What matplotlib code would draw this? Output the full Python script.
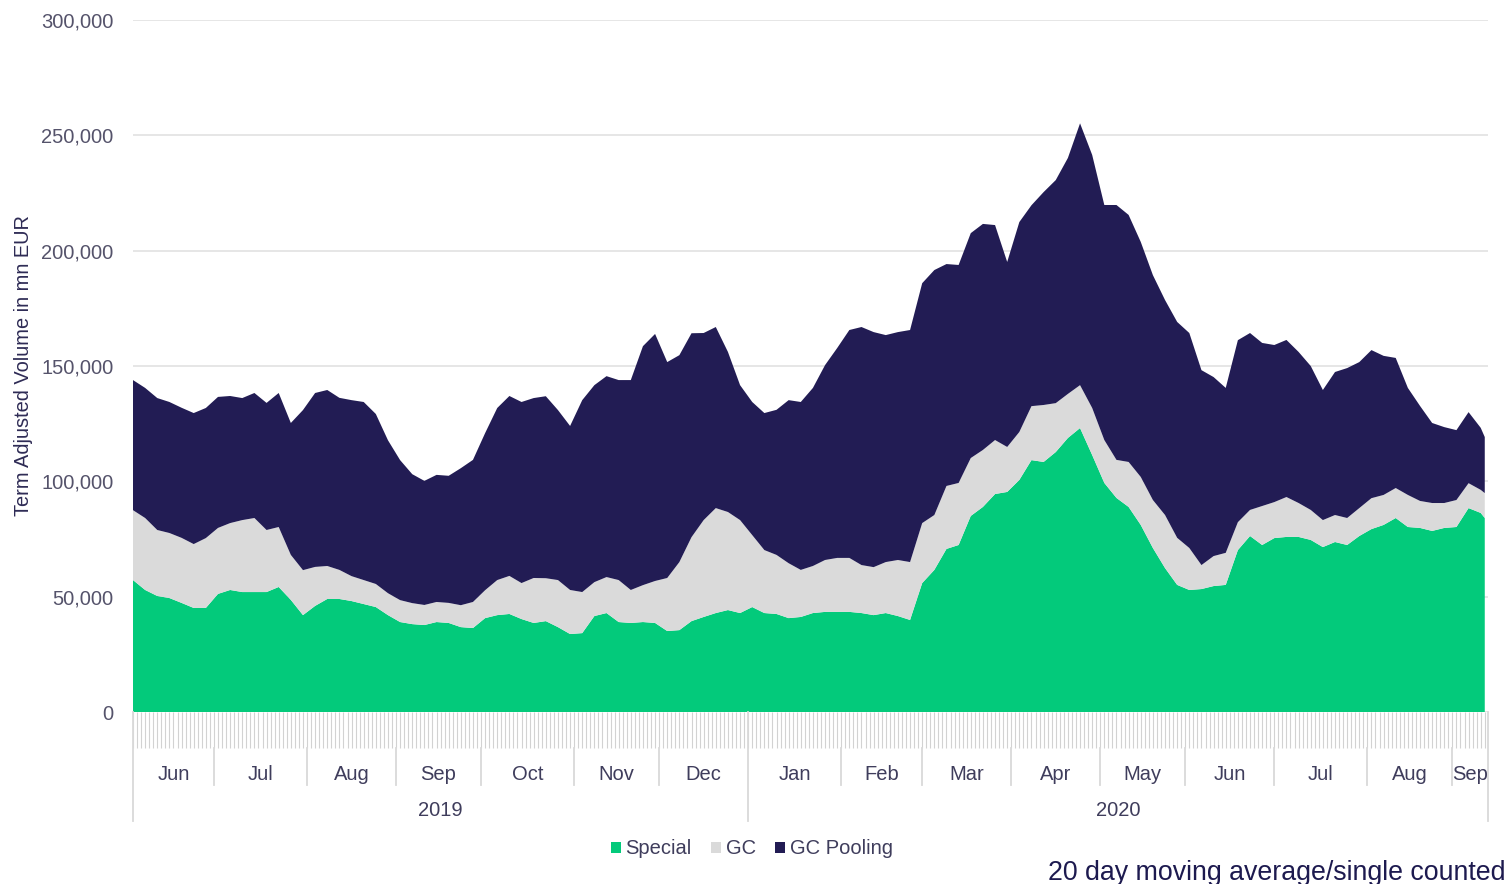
import numpy as np
import pandas as pd
import matplotlib
matplotlib.use('Agg')
import matplotlib.pyplot as plt
from matplotlib.patches import Patch
from matplotlib.ticker import FuncFormatter

plt.rcParams['font.family'] = ['Liberation Sans', 'DejaVu Sans']

# trading days shown on the axis (one thin tick per day)
days = pd.bdate_range('2019-06-03', '2020-09-11')
# values read every third trading day, plus the last one
sample_pos = list(range(0, 334, 3)) + [334]

# 20 day moving average, mn EUR
special = [57200, 52900, 50300, 49400, 47300, 45100, 45100, 51200, 52900, 52000,
           52000, 52000, 54200, 48600, 42000, 46000, 49000, 49000, 48100, 46800,
           45500, 42000, 39000, 38100, 37700, 39000, 38600, 36800, 36400, 40700,
           42000, 42500, 40300, 38600, 39400, 36800, 33800, 34200, 41600, 42900,
           39000, 38600, 39000, 38600, 35100, 35500, 39400, 41200, 42900, 44200,
           42900, 45500, 42900, 42500, 40700, 41200, 42900, 43400, 43400, 43400,
           42900, 42000, 42900, 41600, 39900, 55900, 61600, 70700, 72400, 85000,
           88900, 94500, 95400, 100600, 109200, 108400, 112700, 118800, 123100, 111400,
           99300, 92800, 88900, 81100, 71100, 62400, 55100, 52900, 53300, 54600,
           55100, 70200, 76300, 72400, 75400, 75900, 75900, 74600, 71500, 73700,
           72400, 76300, 79300, 81100, 84100, 80200, 79800, 78500, 79800, 80200,
           88400, 86300, 84100]
gc = [30300, 31200, 28600, 28200, 28200, 27700, 30300, 28600, 29000, 31200,
      32100, 26900, 26000, 19500, 19500, 16900, 14300, 12600, 10800, 10400,
      10000, 9500, 9500, 9100, 8700, 8700, 8700, 9500, 11300, 12100,
      15200, 16500, 15600, 19500, 18600, 20400, 19100, 17800, 14700, 15600,
      18200, 14300, 16000, 18200, 23000, 29500, 36400, 42000, 45500, 42500,
      40300, 31200, 27300, 25600, 23800, 20400, 20400, 22500, 23400, 23400,
      20800, 20800, 22100, 24300, 25100, 26000, 23800, 27300, 26900, 25100,
      24700, 23400, 19500, 20800, 23400, 24700, 21200, 19100, 18600, 20400,
      18600, 16500, 19500, 20800, 20800, 23000, 20400, 18200, 10400, 13000,
      13900, 12100, 11300, 16900, 15600, 17300, 14700, 13000, 11700, 11700,
      11700, 12100, 13400, 13000, 13000, 13900, 11700, 12100, 10800, 11700,
      10800, 10000, 10800]
gc_pooling = [56400, 56400, 57200, 56800, 56400, 56800, 56400, 56800, 55100, 52900,
              54200, 55100, 58100, 57200, 69400, 75400, 76300, 74600, 76300, 77200,
              73700, 66300, 60700, 55900, 53800, 55100, 55100, 59400, 61600, 68100,
              74600, 78000, 78500, 78000, 78900, 73700, 71100, 83200, 85400, 87100,
              86700, 91000, 103600, 107100, 93600, 89700, 88400, 81100, 78500, 69400,
              58500, 57700, 59400, 62900, 70700, 72800, 77200, 84500, 91000, 98800,
              103200, 101900, 98400, 98800, 100600, 104000, 106200, 96200, 94500, 97500,
              98000, 93200, 80200, 91000, 87100, 92300, 96700, 102300, 113500, 109700,
              101900, 110500, 107100, 101900, 97500, 93200, 93600, 93200, 84500, 77600,
              71500, 78900, 76700, 70700, 68100, 68100, 65500, 62400, 56400, 62000,
              65000, 63300, 64200, 60300, 56400, 46400, 41200, 34700, 32900, 30300,
              30800, 26900, 24300]

series_names = ['Special', 'GC', 'GC Pooling']
colors = ['#03CA7B', '#DADADA', '#221C54']
month_labels = ['Jun', 'Jul', 'Aug', 'Sep', 'Oct', 'Nov', 'Dec',
                'Jan', 'Feb', 'Mar', 'Apr', 'May', 'Jun', 'Jul', 'Aug', 'Sep']
year_labels = ['2019', '2020']
y_ticks = [0, 50000, 100000, 150000, 200000, 250000, 300000]

fig = plt.figure(figsize=(15.06, 8.84), dpi=100)
ax = fig.add_axes([133 / 1506, 172 / 884, 1355 / 1506, 692 / 884])

ax.stackplot(sample_pos, special, gc, gc_pooling, colors=colors, linewidth=0)

xmax = len(days) - 0.2
ax.set_xlim(0, xmax)
ax.set_ylim(0, 300000)

# y axis
ax.set_yticks(y_ticks)
ax.yaxis.set_major_formatter(FuncFormatter(lambda v, p: f'{v:,.0f}'))
ax.tick_params(axis='y', length=0, pad=14, labelsize=14.5, labelcolor='#55536B')
ax.yaxis.grid(True, color='#E4E4E4', linewidth=1.3)
ax.set_axisbelow(True)
ax.set_ylabel('Term Adjusted Volume in mn EUR', fontsize=14.4, color='#2E2B55')
ax.yaxis.set_label_coords(-0.074, 0.5)
for s in ax.spines.values():
    s.set_visible(False)

# x axis: one thin tick per trading day
ax.set_xticks([])
ax.set_xticks(np.arange(len(days)), minor=True)
ax.tick_params(axis='x', which='minor', length=26, width=0.8, color='#D2D2D2',
               direction='out')

trans = ax.get_xaxis_transform()
month_starts = [i for i in range(1, len(days)) if days[i].month != days[i - 1].month]
edges = [0] + month_starts + [xmax]
for b in month_starts:
    if days[b].year != days[b - 1].year:
        ax.plot([b, b], [0, -0.157], transform=trans, color='#D9D9D9', lw=1.3, clip_on=False)
    else:
        ax.plot([b, b], [-0.052, -0.106], transform=trans, color='#D9D9D9', lw=1.3, clip_on=False)
for b in [0, xmax]:
    ax.plot([b, b], [0, -0.157], transform=trans, color='#D9D9D9', lw=1.3, clip_on=False)

for k, lab in enumerate(month_labels):
    ax.text((edges[k] + edges[k + 1]) / 2, -0.091, lab, transform=trans, ha='center',
            va='center', fontsize=14.5, color='#3F3D5C')

year_break = [b for b in month_starts if days[b].year != days[b - 1].year][0]
year_edges = [0, year_break, xmax]
for k, lab in enumerate(year_labels):
    ax.text((year_edges[k] + year_edges[k + 1]) / 2, -0.143, lab, transform=trans,
            ha='center', va='center', fontsize=14.5, color='#3F3D5C')

# legend
handles = [Patch(facecolor=c, edgecolor='none') for c in colors]
fig.legend(handles, series_names, loc='center', bbox_to_anchor=(752 / 1506, 35 / 884),
           ncol=3, frameon=False, fontsize=14.5, handlelength=0.5, handleheight=0.5,
           handletextpad=0.25, columnspacing=0.95, labelcolor='#3F3D5C')

fig.text(1.0, 11 / 884, '20 day moving average/single counted', ha='right', va='center',
         fontsize=19.3, color='#1D1A4F')

fig.savefig('out.png', dpi=100)
